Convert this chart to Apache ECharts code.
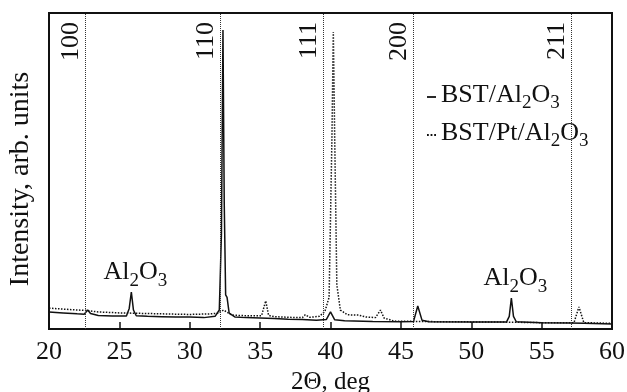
<!DOCTYPE html>
<html>
<head>
<meta charset="utf-8">
<script src="https://cdn.jsdelivr.net/npm/echarts@6/dist/echarts.min.js"></script>
<style>
  html, body { margin: 0; padding: 0; background: #fff; }
  #chart { width: 627px; height: 392px; }
</style>
</head>
<body>
<div id="chart"></div>
<script>
// 2theta (deg) and intensity (arb. units, 0..100)
const solidTheta = [20, 21, 22, 22.5, 22.75, 22.95, 23.5, 24.5, 25.5, 25.7, 25.85, 26.0, 26.2, 27, 28, 29, 30, 31, 31.8, 32.1, 32.25, 32.36, 32.45, 32.55, 32.65, 32.8, 33.2, 34, 35, 36, 37, 38, 39, 39.7, 40.0, 40.3, 41, 43, 45, 45.9, 46.2, 46.5, 47, 50, 52.5, 52.7, 52.85, 53.0, 53.2, 55, 57, 58, 60];
const solidIntensity = [5.4, 5.1, 4.8, 4.7, 6.0, 4.9, 4.3, 4.1, 4.1, 6.5, 11.7, 6.0, 4.2, 4.0, 3.9, 3.8, 3.8, 3.6, 4.0, 6.0, 30, 94.6, 40, 10.8, 10.0, 5.0, 3.8, 3.6, 3.5, 3.3, 3.1, 3.0, 2.8, 3.0, 5.4, 2.9, 2.6, 2.4, 2.3, 2.4, 7.3, 2.8, 2.3, 2.2, 2.2, 4.0, 9.8, 4.0, 2.3, 2.0, 1.9, 1.8, 1.6];

const dottedTheta = [20, 21, 22, 22.6, 23.5, 25, 26, 28, 30, 31.5, 32.0, 32.4, 33, 34, 35.1, 35.4, 35.6, 36, 37, 38.0, 38.2, 38.5, 39.2, 39.6, 39.9, 40.1, 40.2, 40.3, 40.45, 40.7, 41.2, 42, 42.5, 43.2, 43.55, 43.8, 44.5, 46, 48, 52, 55, 57.3, 57.65, 58.0, 60];
const dottedIntensity = [6.6, 6.3, 6.0, 5.9, 5.4, 5.1, 5.0, 4.8, 4.6, 4.8, 5.0, 6.0, 4.4, 4.2, 4.2, 8.9, 4.3, 3.9, 3.7, 3.6, 4.5, 3.7, 4.0, 5.5, 10, 60, 94, 60, 14, 6.0, 4.5, 4.4, 3.8, 3.6, 6.0, 3.5, 2.5, 2.4, 2.3, 2.2, 2.0, 2.0, 7.0, 2.0, 1.8];

// BST reflections (vertical dotted guides)
const reflectionTheta = [22.6, 32.15, 39.5, 45.9, 57.1];
const reflectionLabels = ['100', '110', '111', '200', '211'];

// substrate peaks marked "Al2O3" (index into solid arrays)
const substratePeakIdx = [10, 46];

const serif = '"Liberation Serif", "DejaVu Serif", serif';
const chemRich = {
  n: { fontFamily: serif, fontSize: 26, color: '#111', lineHeight: 30, verticalAlign: 'top' },
  s: { fontFamily: serif, fontSize: 19, color: '#111', lineHeight: 30, verticalAlign: 'top', padding: [12, 0, 0, 0] }
};

const myChart = echarts.init(document.getElementById('chart'));

const option = {
  animation: false,
  grid: {
    left: 49,
    right: 15,
    top: 13,
    bottom: 63,
    outerBoundsMode: 'none',
    containLabel: false,
    show: true,
    borderColor: '#111',
    borderWidth: 2,
  },
  legend: {
    orient: 'vertical',
    left: 422,
    top: 77,
    itemWidth: 9,
    itemHeight: 2,
    itemGap: 7,
    data: [
      { name: 'BST/Al2O3', icon: 'path://M0,0h10v2h-10z' },
      { name: 'BST/Pt/Al2O3', icon: 'path://M0,0h2v2h-2zM4,0h2v2h-2zM8,0h2v2h-2z' },
    ],
    formatter: (name) => name === 'BST/Al2O3'
      ? '{n|BST/Al}{s|2}{n|O}{s|3}'
      : '{n|BST/Pt/Al}{s|2}{n|O}{s|3}',
    textStyle: { rich: chemRich },
  },
  xAxis: {
    type: 'value',
    min: 20,
    max: 60,
    interval: 5,
    name: '2Θ, deg',
    nameLocation: 'middle',
    nameGap: 41,
    nameTextStyle: { fontFamily: serif, fontSize: 25, color: '#111' },
    axisLine: { show: true, lineStyle: { color: '#111', width: 2 } },
    axisTick: { show: true, inside: true, length: 7, lineStyle: { color: '#111', width: 1.5 } },
    axisLabel: { fontFamily: serif, fontSize: 26, color: '#111', margin: 10 },
    splitLine: { show: false },
  },
  yAxis: {
    type: 'value',
    min: 0,
    max: 100,
    name: 'Intensity, arb. units',
    nameLocation: 'middle',
    nameGap: 14,
    nameTextStyle: { fontFamily: serif, fontSize: 28, color: '#111', padding: [0, 16, 0, 0] },
    axisLine: { show: false },
    axisTick: { show: false },
    axisLabel: { show: false },
    splitLine: { show: false },
  },
  series: [
    {
      name: 'BST/Al2O3',
      type: 'line',
      data: solidTheta.map((t, i) => [t, solidIntensity[i]]),
      symbol: 'none',
      lineStyle: { color: '#111', width: 1.5 },
      itemStyle: { color: '#111' },
      z: 3,
      markLine: {
        silent: true,
        symbol: 'none',
        lineStyle: { type: 'dotted', color: '#333', width: 1 },
        label: {
          position: 'insideEndTop',
          distance: [9, 1],
          fontFamily: serif,
          fontSize: 26,
          color: '#111',
        },
        data: reflectionTheta.map((t, i) => ({ xAxis: t, label: { formatter: reflectionLabels[i] } })),
      },
      markPoint: {
        symbol: 'circle',
        symbolSize: 0,
        label: {
          show: true,
          position: 'top',
          distance: 3,
          offset: [4, 0],
          formatter: '{n|Al}{s|2}{n|O}{s|3}',
          rich: chemRich,
        },
        data: substratePeakIdx.map((k) => ({ coord: [solidTheta[k], solidIntensity[k]] })),
      },
    },
    {
      name: 'BST/Pt/Al2O3',
      type: 'line',
      data: dottedTheta.map((t, i) => [t, dottedIntensity[i]]),
      symbol: 'none',
      lineStyle: { color: '#111', width: 1.5, type: 'dotted' },
      itemStyle: { color: '#111' },
      z: 2,
    },
  ],
};

myChart.setOption(option);
</script>
</body>
</html>
